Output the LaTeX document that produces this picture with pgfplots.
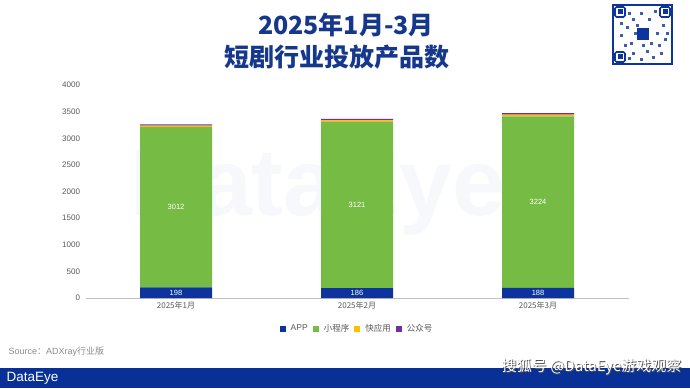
\documentclass[border=0pt]{standalone}
\usepackage{pgfplots}
\pgfplotsset{compat=1.18}
\usepackage{fontspec}
\setmainfont{Liberation Sans}
\newfontfamily\cjk{Noto Sans CJK SC}
\definecolor{titleblue}{RGB}{22,56,140}
\definecolor{appblue}{RGB}{12,52,156}
\definecolor{mpgreen}{RGB}{118,188,68}
\definecolor{qaorange}{RGB}{255,192,0}
\definecolor{gzpurple}{RGB}{112,48,160}
\definecolor{bandblue}{RGB}{8,48,150}
\definecolor{ticktext}{RGB}{89,89,89}
\pgfplotsset{commonax/.style={
 at={(85.5pt,90pt)}, anchor=south west,
 scale only axis, width=543pt, height=213pt,
 ymin=0, ymax=4000, xmin=-0.5, xmax=2.5}}
\begin{document}
\begin{tikzpicture}[x=1pt,y=1pt]
\fill[white] (0,0) rectangle (690,388);
% watermark
\node[text=titleblue!3.5, font=\fontsize{95}{95}\selectfont\bfseries] at (318,195) {DataEye};
% titles
\node[text=titleblue, font=\cjk\fontsize{25}{25}\selectfont\bfseries] at (346,363) {2025年1月-3月};
\node[text=titleblue, font=\cjk\fontsize{25}{25}\selectfont\bfseries] at (337,331) {短剧行业投放产品数};
% QR placeholder
\begin{scope}[shift={(612,323)}]
\draw[appblue, line width=1.6] (1,1) rectangle (60,60);
\foreach \px/\py in {2/47,47/47,2/2}{
 \draw[appblue, line width=1.6, rounded corners=1.5] (\px+1,\py+1) rectangle (\px+11,\py+11);
 \fill[appblue] (\px+3.5,\py+3.5) rectangle (\px+8.5,\py+8.5);}
\fill[appblue] (25,25) rectangle (37,37);
\foreach \px/\py in {16/5,20/10,28/4,34/12,40/6,46/18,52/24,18/20,8/28,14/36,20/44,28/50,36/44,42/52,50/38,54/30,30/18,12/18,44/30,22/30,16/50,24/38,38/20,48/10,8/40}{
 \fill[appblue!80] (\px,\py) rectangle (\px+3,\py+3);}
\end{scope}
\begin{axis}[commonax,
 ybar stacked, bar width=72pt,
 ytick distance=500,
 xtick=data,
 xticklabels={{\cjk 2025年1月},{\cjk 2025年2月},{\cjk 2025年3月}},
 axis y line*=left, axis x line*=bottom,
 y axis line style={draw=none},
 x axis line style={draw=black!25, -},
 major tick length=0,
 ticklabel style={font=\fontsize{8}{8}\selectfont, text=ticktext},
 /pgf/number format/assume math mode=true,
 /pgf/number format/1000 sep={},
 yticklabel style={xshift=-2pt},
 legend style={draw=none, at={(0.5,0)}, anchor=north, yshift=-22pt,
   font=\fontsize{8.5}{8.5}\selectfont, text=ticktext, column sep=3pt},
 legend columns=4,
 legend image code/.code={\fill[#1,draw=none] (0pt,-3.5pt) rectangle (6pt,2.5pt);},
]
\addplot[fill=appblue, draw=none] coordinates {(0,198) (1,186) (2,188)};
\addplot[fill=mpgreen, draw=none] coordinates {(0,3012) (1,3121) (2,3224)};
\addplot[fill=qaorange, draw=none] coordinates {(0,28) (1,30) (2,32)};
\addplot[fill=gzpurple, draw=none] coordinates {(0,22) (1,25) (2,28)};
\legend{APP,{\cjk 小程序},{\cjk 快应用},{\cjk 公众号}}
\end{axis}
% value labels at segment centres
\begin{axis}[commonax, hide axis]
\addplot[only marks, mark=none, nodes near coords, point meta=explicit symbolic,
  nodes near coords style={font=\fontsize{7.5}{7.5}\selectfont, text=white, anchor=center}]
  coordinates {(0,99)[198] (1,93)[186] (2,94)[188]
               (0,1704)[3012] (1,1746.5)[3121] (2,1800)[3224]};
\end{axis}
% source
\node[anchor=west, text=black!45, font=\fontsize{9}{9}\selectfont] at (5,36) {Source{\cjk ：}ADXray{\cjk 行业版}};
% bottom band
\fill[bandblue] (0,0) rectangle (690,20);
\node[anchor=west, text=white, font=\fontsize{13.5}{13.5}\selectfont] at (3,9.5) {DataEye};
\node[anchor=east, text=black!70, font=\cjk\fontsize{15}{15}\selectfont] at (685.8,20.2) {搜狐号 @DataEye游戏观察};
\node[anchor=east, text=white, font=\cjk\fontsize{15}{15}\selectfont] at (685,21) {搜狐号 @DataEye游戏观察};
\end{tikzpicture}
\end{document}
